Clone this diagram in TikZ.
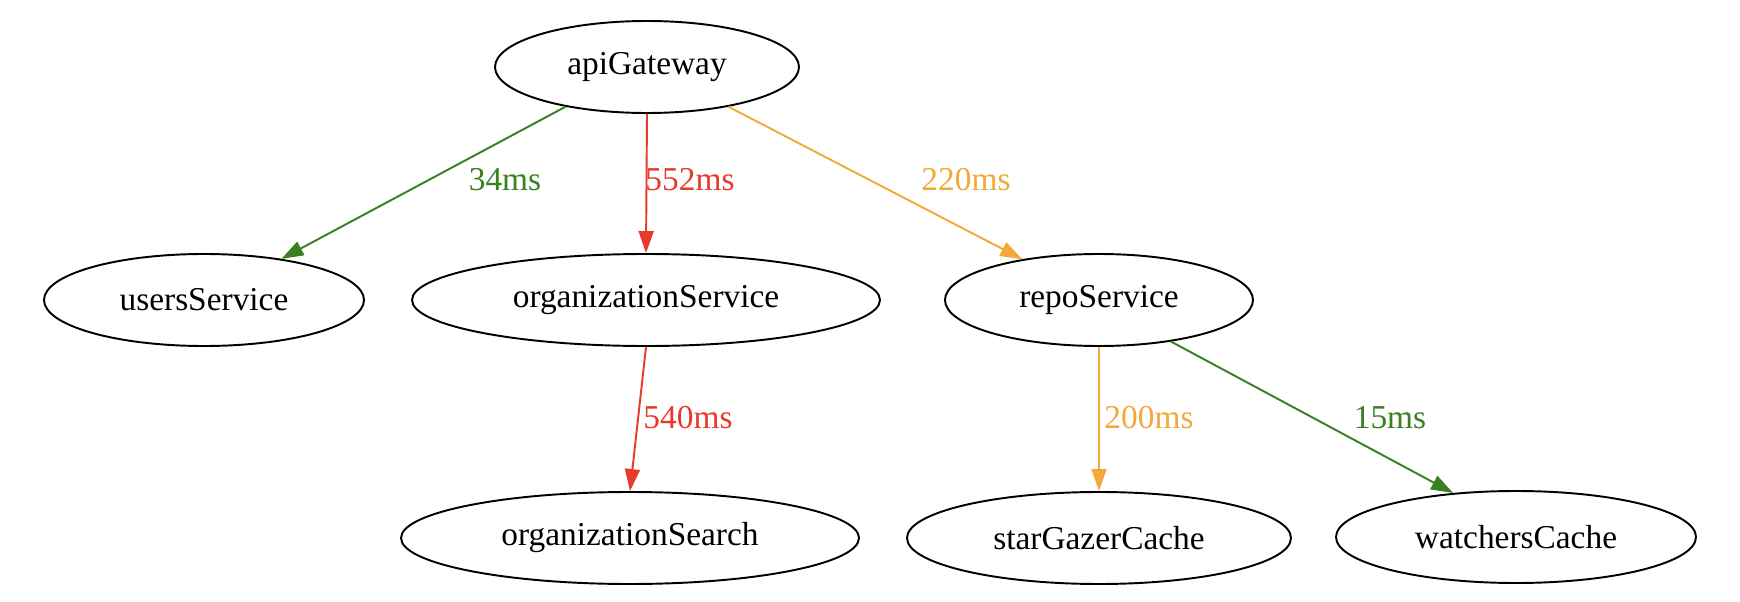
\documentclass[tikz,border=0pt]{standalone}
\usepackage{fontspec}
\setmainfont{Liberation Serif}
\usetikzlibrary{shapes,arrows.meta,positioning}
\definecolor{fastgreen}{RGB}{56,128,34}
\definecolor{slowred}{RGB}{232,57,42}
\definecolor{midorange}{RGB}{242,169,59}
\tikzset{
    svc/.style={ellipse, draw=black, line width=1.1pt, inner sep=0pt, minimum height=1.84cm, font=\fontsize{19}{22}\selectfont},
    call/.style={-{Triangle[length=0.44cm, width=0.3cm]}, line width=1.1pt},
    ms/.style={font=\fontsize{19}{22}\selectfont}
}
\begin{document}
\begin{tikzpicture}
    \useasboundingbox (0,0) rectangle (34.8,-12.04);
    \node[svc, minimum width=6.08cm] (api) at (12.94,-1.34) {apiGateway};
    \node[svc, minimum width=6.4cm] (users) at (4.08,-6.0) {usersService};
    \node[svc, minimum width=9.36cm] (org) at (12.92,-6.0) {organizationService};
    \node[svc, minimum width=6.16cm] (repo) at (21.98,-6.0) {repoService};
    \node[svc, minimum width=9.16cm] (search) at (12.6,-10.76) {organizationSearch};
    \node[svc, minimum width=7.68cm] (stars) at (21.98,-10.76) {starGazerCache};
    \node[svc, minimum width=7.2cm] (watchers) at (30.32,-10.74) {watchersCache};

    \draw[call, fastgreen] (api.-154) -- (users.28);
    \draw[call, slowred] (api.south) -- (org.north);
    \draw[call, midorange] (api.-26) -- (repo.152);
    \draw[call, slowred] (org.south) -- (search.north);
    \draw[call, midorange] (repo.south) -- (stars.north);
    \draw[call, fastgreen] (repo.-30) -- (watchers.145);

    \node[ms, text=fastgreen] (l1) at (10.1,-3.6) {34ms};
    \node[ms, text=slowred] (l2) at (13.8,-3.6) {552ms};
    \node[ms, text=midorange] (l3) at (19.32,-3.6) {220ms};
    \node[ms, text=slowred] (l4) at (13.76,-8.36) {540ms};
    \node[ms, text=midorange] (l5) at (22.98,-8.36) {200ms};
    \node[ms, text=fastgreen] (l6) at (27.8,-8.36) {15ms};
\end{tikzpicture}
\end{document}
